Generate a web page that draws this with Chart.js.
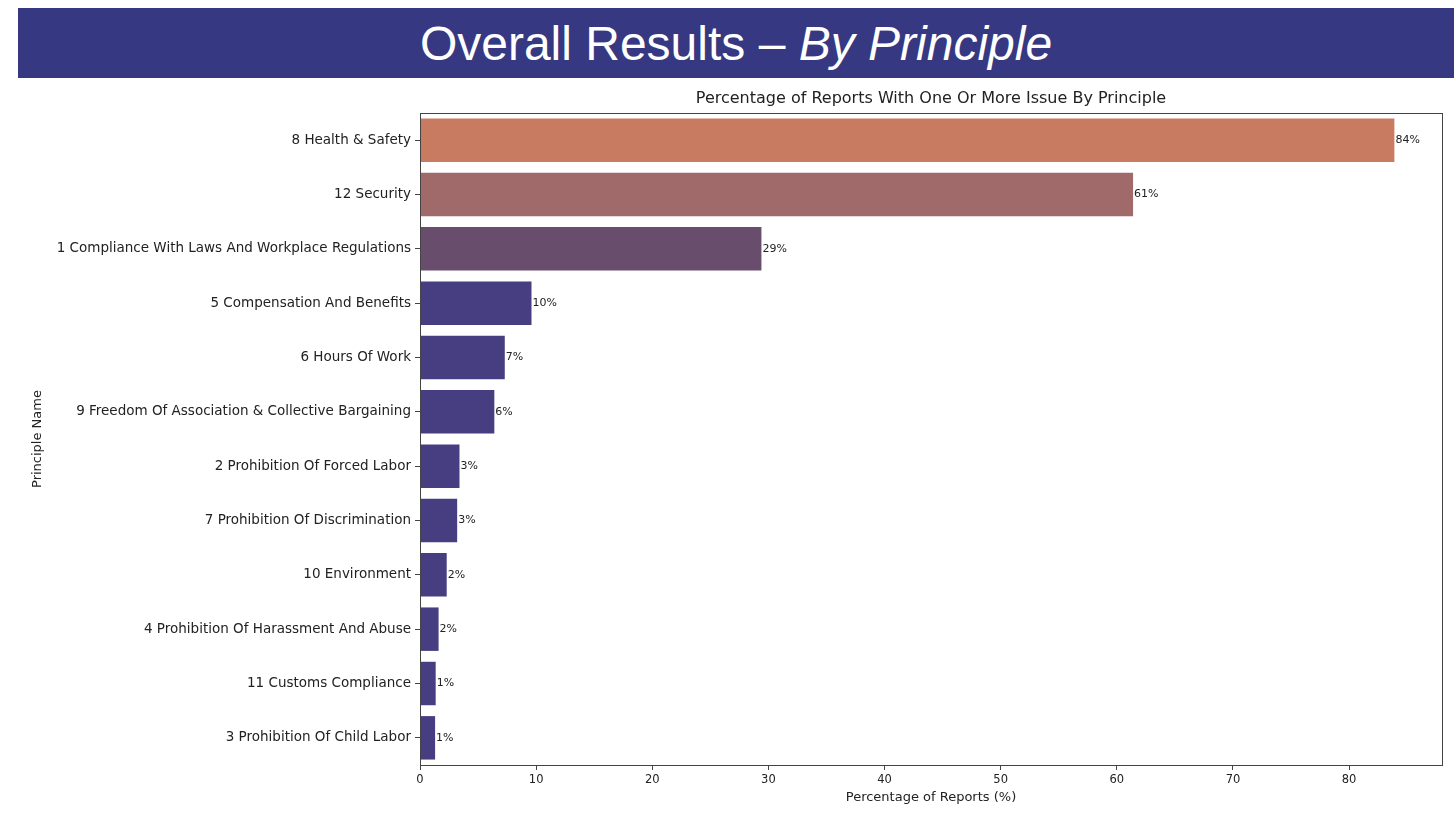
<!DOCTYPE html>
<html>
<head>
<meta charset="utf-8">
<script src="https://cdn.jsdelivr.net/npm/chart.js@4/dist/chart.umd.min.js"></script>
<style>
  html, body { margin: 0; padding: 0; background: #fff; }
  body { width: 1454px; height: 814px; position: relative; overflow: hidden; }
  #banner {
    position: absolute; left: 18px; top: 8px; width: 1436px; height: 70px;
    background: #363882; color: #fff; text-align: center;
    font-family: "Liberation Sans", Arial, sans-serif; font-size: 48px; line-height: 72px;
  }
  #banner i { font-style: italic; }
  #wrap { position: absolute; left: 0; top: 80px; width: 1454px; height: 734px; }
</style>
</head>
<body>
<div id="banner">Overall Results – <i>By Principle</i></div>
<div id="wrap"><canvas id="chart"></canvas></div>
<script>
// Categories, top to bottom
const principles = [
  '8 Health & Safety',
  '12 Security',
  '1 Compliance With Laws And Workplace Regulations',
  '5 Compensation And Benefits',
  '6 Hours Of Work',
  '9 Freedom Of Association & Collective Bargaining',
  '2 Prohibition Of Forced Labor',
  '7 Prohibition Of Discrimination',
  '10 Environment',
  '4 Prohibition Of Harassment And Abuse',
  '11 Customs Compliance',
  '3 Prohibition Of Child Labor'
];

// Percentage of reports with one or more issue
const percentages = [83.9, 61.4, 29.4, 9.6, 7.3, 6.4, 3.4, 3.2, 2.3, 1.6, 1.35, 1.3];

const xTicks = [0, 10, 20, 30, 40, 50, 60, 70, 80];

const chartTitle = 'Percentage of Reports With One Or More Issue By Principle';

const barColors = ['#c97b62', '#a0696a', '#684e6c'];
const baseColor = '#463e80';

const fontFamily = '"DejaVu Sans", "Noto Sans", sans-serif';

// Title centred over the plot area
const plotTitle = {
  id: 'plotTitle',
  afterDraw(chart) {
    const a = chart.chartArea;
    const ctx = chart.ctx;
    ctx.save();
    ctx.font = '16px ' + fontFamily;
    ctx.fillStyle = '#222';
    ctx.textAlign = 'center';
    ctx.textBaseline = 'middle';
    ctx.fillText(chartTitle, (a.left + a.right) / 2, a.top - 14);
    ctx.restore();
  }
};

// Value labels at bar ends
const valueLabels = {
  id: 'valueLabels',
  afterDatasetsDraw(chart) {
    const ctx = chart.ctx;
    const meta = chart.getDatasetMeta(0);
    ctx.save();
    ctx.font = '11px ' + fontFamily;
    ctx.fillStyle = '#222';
    ctx.textAlign = 'left';
    ctx.textBaseline = 'middle';
    meta.data.forEach((bar, i) => {
      ctx.fillText(Math.round(percentages[i]) + '%', bar.x + 1, bar.y);
    });
    ctx.restore();
  }
};

// Box around the plot area
const frame = {
  id: 'frame',
  afterDraw(chart) {
    const a = chart.chartArea;
    const ctx = chart.ctx;
    ctx.save();
    ctx.strokeStyle = '#444';
    ctx.lineWidth = 1;
    ctx.strokeRect(a.left + 0.5, a.top + 0.5, a.right - a.left, a.bottom - a.top);
    ctx.restore();
  }
};

new Chart(document.getElementById('chart').getContext('2d'), {
  type: 'bar',
  data: {
    labels: principles,
    datasets: [{
      data: percentages,
      backgroundColor: percentages.map((v, i) => barColors[i] || baseColor),
      borderWidth: 0,
      barPercentage: 0.8,
      categoryPercentage: 1
    }]
  },
  options: {
    indexAxis: 'y',
    responsive: true,
    maintainAspectRatio: false,
    animation: false,
    layout: { padding: { left: 0, right: 12, top: 33, bottom: 9 } },
    plugins: {
      legend: { display: false },
      tooltip: { enabled: false },
      title: { display: false }
    },
    scales: {
      x: {
        min: 0,
        max: 88,
        afterBuildTicks(scale) {
          scale.ticks = xTicks.map(v => ({ value: v }));
        },
        afterFit(scale) { scale.height = 40; },
        grid: { drawOnChartArea: false, drawTicks: true, tickLength: 5, color: '#444' },
        border: { display: false },
        ticks: { color: '#222', padding: 3, font: { family: fontFamily, size: 11.5 } },
        title: {
          display: true,
          text: 'Percentage of Reports (%)',
          color: '#222',
          font: { family: fontFamily, size: 13 },
          padding: { top: 0, bottom: 0 }
        }
      },
      y: {
        afterFit(scale) { scale.width = 420; },
        grid: { offset: false, drawOnChartArea: false, drawTicks: true, tickLength: 5, color: '#444' },
        border: { display: false },
        ticks: { color: '#222', padding: 4, font: { family: fontFamily, size: 13.5 } },
        title: {
          display: true,
          text: 'Principle Name',
          color: '#222',
          font: { family: fontFamily, size: 13 },
          padding: { top: 30, bottom: 0 }
        }
      }
    }
  },
  plugins: [valueLabels, frame, plotTitle]
});
</script>
</body>
</html>
